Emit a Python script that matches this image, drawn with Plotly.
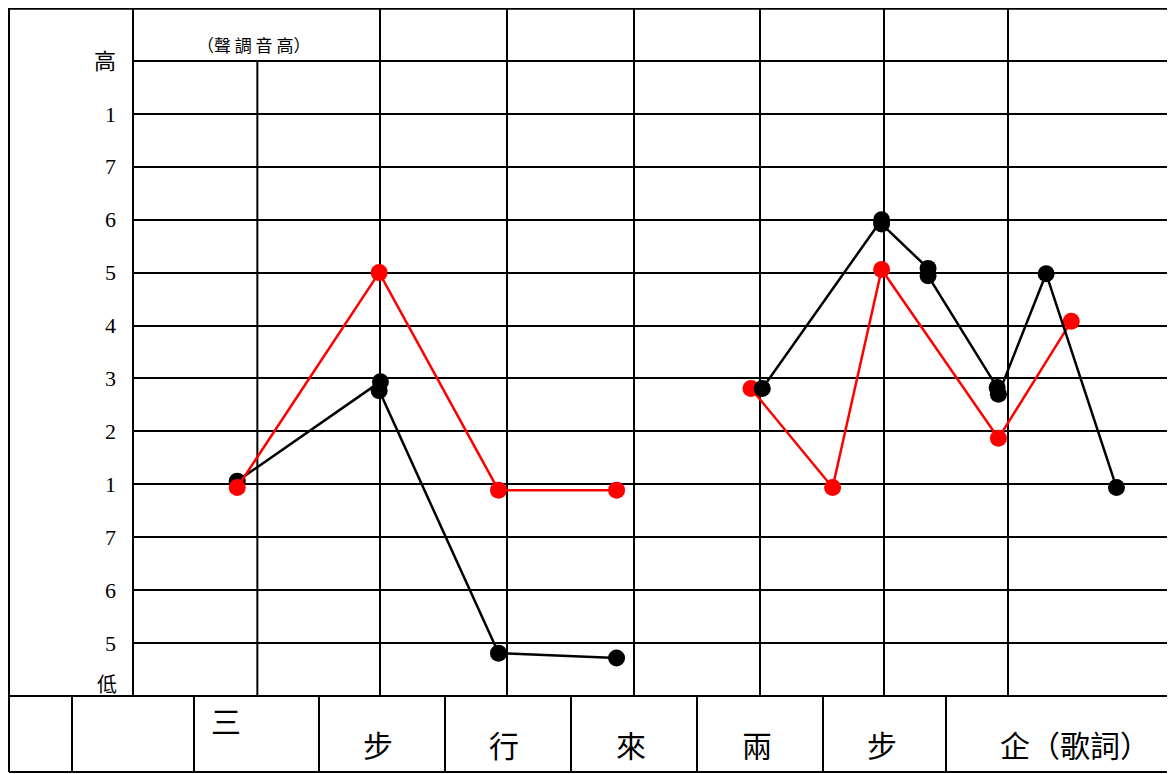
import plotly.graph_objects as go

# 頁面本身有 8px 的邊距，圖的尺寸與座標換算都扣掉它
OFF = 8
W, H = 1175 - OFF, 774 - OFF

# 音高刻度（由低到高）
level_vals = list(range(0, 12))
level_text = ["5", "6", "7", "1", "2", "3", "4", "5", "6", "7", "1", "高"]

# 欄位分隔（以欄寬為單位）
col_lines = [1.97, 2.98, 3.99, 4.99, 5.98, 6.97]
first_col_line = 0.99

# 黑線：第一段
black1_x = [0.83, 1.97, 1.96, 2.91, 3.85]
black1_y = [3.06, 4.94, 4.77, -0.19, -0.28]
# 紅線
red_x = [0.83, 1.96, 2.91, 3.85, None, 4.92, 5.57, 5.96, 6.89, 7.47]
red_y = [2.94, 7.0, 2.89, 2.89, None, 4.81, 2.94, 7.06, 3.87, 6.08]
# 黑線：第二段
black2_x = [5.01, 5.96, 5.96, 6.33, 6.33, 6.88, 6.89, 7.27, 7.83]
black2_y = [4.81, 8.0, 7.92, 7.08, 6.94, 4.83, 4.70, 6.98, 2.94]

lyrics = ["三", "步", "行", "來", "兩", "步", "企（歌詞）"]
lyric_px = [226, 378, 504, 631, 757, 882, 1075]
lyric_py = [722, 746, 746, 746, 746, 746, 746]

FONT = "Liberation Serif, Noto Sans CJK TC"
LW = 2


def px(x):
    return (x - OFF) / W


def py(y):
    return 1 - (y - OFF) / H


fig = go.Figure()
fig.add_trace(go.Scatter(x=black1_x, y=black1_y, mode="lines+markers",
                         line=dict(color="black", width=2.5),
                         marker=dict(color="black", size=17)))
fig.add_trace(go.Scatter(x=red_x, y=red_y, mode="lines+markers",
                         line=dict(color="#FF0000", width=2.5),
                         marker=dict(color="#FF0000", size=17)))
fig.add_trace(go.Scatter(x=black2_x, y=black2_y, mode="lines+markers",
                         line=dict(color="black", width=2.5),
                         marker=dict(color="black", size=17)))

shapes = []
# 表格外框與分隔線（紙張座標）
for x0, y0, x1, y1 in [
    (9, 8.8, 1173, 8.8), (9, 696, 1173, 696), (9, 772, 1173, 772),
    (9, 8, 9, 772), (1173, 8, 1173, 772), (133, 8, 133, 696),
]:
    shapes.append(dict(type="line", xref="paper", yref="paper",
                       x0=px(x0), y0=py(y0), x1=px(x1), y1=py(y1),
                       line=dict(color="black", width=LW)))
for bx in [72, 194, 319, 445, 571, 697, 823, 946]:
    shapes.append(dict(type="line", xref="paper", yref="paper",
                       x0=px(bx), y0=py(696), x1=px(bx), y1=py(772),
                       line=dict(color="black", width=LW)))
# 第一欄分隔線不穿過標題列
shapes.append(dict(type="line", xref="x", yref="y",
                   x0=first_col_line, y0=-1, x1=first_col_line, y1=11,
                   line=dict(color="black", width=LW), layer="below"))

annotations = [
    dict(text="（聲 調 音 高）", x=px(253), y=py(45), xref="paper", yref="paper",
         xanchor="center", yanchor="middle", showarrow=False,
         font=dict(size=17, family="Noto Sans CJK TC", color="black")),
    dict(text="低", x=px(107), y=py(698), xref="paper", yref="paper",
         xanchor="center", yanchor="bottom", showarrow=False,
         font=dict(size=20, family=FONT, color="black")),
]
for t, lx, ly in zip(lyrics, lyric_px, lyric_py):
    annotations.append(dict(text=t, x=px(lx), y=py(ly), xref="paper", yref="paper",
                            xanchor="center", yanchor="middle", showarrow=False,
                            font=dict(size=30, family=FONT, color="black")))

fig.update_layout(
    width=W, height=H,
    margin=dict(l=0, r=0, t=0, b=0),
    paper_bgcolor="white", plot_bgcolor="white",
    showlegend=False,
    shapes=shapes,
    annotations=annotations,
    xaxis=dict(domain=[px(133), px(1173)], range=[0, 8.28],
               tickvals=col_lines, showticklabels=False, ticks="",
               showgrid=True, gridcolor="black", gridwidth=LW,
               zeroline=False, showline=False, fixedrange=True),
    yaxis=dict(domain=[py(696), 1], range=[-1, 12],
               tickvals=level_vals, ticktext=level_text,
               showgrid=True, gridcolor="black", gridwidth=LW,
               zeroline=False, showline=False, ticks="",
               ticklabelstandoff=16,
               tickfont=dict(size=22, family=FONT, color="black"),
               fixedrange=True),
)

fig.write_html("out.html")
